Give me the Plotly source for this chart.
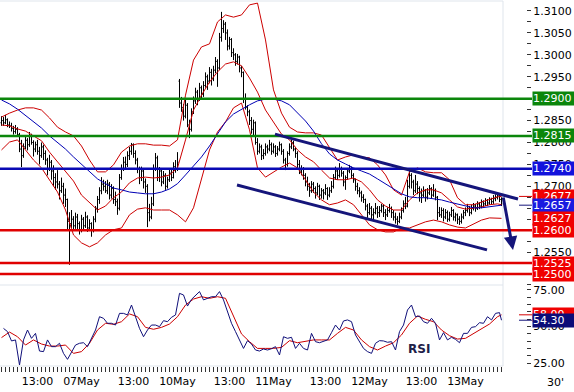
import plotly.graph_objects as go

# ---------------- data (EUR/USD 30-minute bars, 06May 04:00 .. 13May 09:00) ----------------
# prices stored as pips above 1.2000  (price = 1.2 + pips / 10000)
open_pips = [
    845, 850, 845, 852, 840, 838, 832, 825, 830, 818,
    785, 770, 790, 805, 795, 815, 800, 785, 795, 780,
    770, 790, 775, 760, 740, 755, 735, 720, 710, 705,
    690, 700, 680, 670, 620, 615, 625, 610, 630, 615,
    600, 625, 610, 630, 605, 615, 600, 625, 650, 670,
    690, 705, 700, 690, 705, 680, 695, 670, 665, 650,
    720, 740, 755, 750, 770, 780, 795, 775, 760, 740,
    720, 735, 710, 700, 640, 630, 660, 740, 765, 720,
    735, 710, 725, 700, 715, 730, 720, 745, 740, 940,
    890, 880, 860, 885, 840, 830, 870, 895, 915, 900,
    925, 910, 930, 950, 940, 960, 945, 965, 985, 970,
    1040, 1060, 1070, 1050, 1020, 1035, 1005, 1000, 985, 995,
    970, 960, 900, 880, 870, 850, 830, 845, 800, 780,
    790, 770, 775, 790, 785, 795, 780, 790, 775, 785,
    795, 780, 760, 750, 775, 790, 800, 785, 775, 750,
    735, 740, 725, 710, 700, 690, 705, 695, 685, 700,
    680, 690, 685, 695, 680, 690, 700, 720, 735, 725,
    740, 730, 710, 720, 735, 740, 725, 715, 700, 690,
    685, 675, 670, 655, 640, 650, 635, 640, 650, 640,
    645, 655, 640, 635, 645, 650, 640, 630, 625, 620,
    630, 645, 660, 655, 700, 725, 710, 690, 705, 695,
    685, 680, 690, 675, 685, 695, 680, 690, 675, 640,
    635, 645, 630, 640, 625, 635, 645, 630, 635, 625,
    620, 630, 640, 645, 650, 640, 650, 655, 650, 660,
    655, 665, 660, 668, 662, 670, 665, 672, 675, 680,
    670]
high_pips = [
    860, 858, 863, 855, 848, 845, 838, 840, 835, 822,
    806, 798, 815, 810, 824, 820, 805, 802, 806, 790,
    800, 795, 782, 765, 772, 760, 748, 730, 737, 712,
    720, 708, 695, 672, 641, 646, 632, 640, 637, 620,
    635, 630, 642, 634, 625, 618, 632, 655, 678, 698,
    721, 715, 712, 715, 710, 705, 700, 688, 672, 728,
    750, 767, 768, 780, 790, 799, 798, 782, 765, 745,
    745, 740, 718, 705, 660, 676, 750, 776, 770, 744,
    740, 735, 730, 722, 740, 738, 755, 760, 778, 945,
    904, 888, 898, 890, 852, 878, 905, 925, 920, 936,
    930, 940, 960, 955, 972, 968, 975, 995, 990, 1050,
    1098, 1079, 1075, 1058, 1041, 1038, 1015, 1004, 1002, 998,
    975, 962, 912, 885, 875, 858, 852, 848, 810, 798,
    795, 785, 798, 795, 806, 800, 798, 794, 792, 802,
    798, 785, 765, 780, 798, 806, 804, 790, 780, 760,
    748, 744, 730, 722, 708, 712, 710, 700, 708, 704,
    696, 694, 705, 698, 698, 712, 728, 745, 740, 753,
    745, 735, 725, 742, 749, 745, 730, 718, 708, 698,
    690, 682, 672, 660, 662, 655, 650, 662, 655, 655,
    660, 658, 648, 652, 660, 654, 646, 640, 632, 640,
    652, 668, 676, 715, 737, 730, 715, 726, 712, 700,
    695, 700, 694, 696, 703, 698, 705, 695, 678, 653,
    652, 650, 648, 645, 642, 653, 648, 640, 638, 632,
    638, 646, 652, 660, 655, 658, 662, 660, 666, 664,
    670, 668, 673, 671, 675, 674, 680, 682, 687, 684,
    675]
low_pips = [
    838, 838, 842, 835, 833, 825, 818, 820, 813, 778,
    744, 765, 785, 782, 790, 795, 768, 778, 772, 750,
    765, 760, 749, 725, 735, 715, 700, 692, 695, 670,
    685, 660, 653, 601, 521, 605, 598, 603, 600, 590,
    595, 600, 605, 596, 598, 585, 595, 618, 640, 660,
    682, 690, 685, 682, 670, 672, 660, 655, 635, 645,
    715, 735, 740, 744, 760, 772, 765, 750, 730, 705,
    712, 695, 685, 607, 620, 625, 655, 735, 712, 710,
    700, 705, 692, 695, 710, 712, 718, 731, 735, 879,
    870, 850, 855, 835, 810, 825, 865, 888, 885, 895,
    900, 904, 925, 920, 935, 930, 940, 958, 927, 965,
    1030, 1050, 1034, 1010, 1012, 995, 988, 975, 978, 960,
    949, 890, 875, 860, 840, 820, 813, 795, 772, 775,
    760, 762, 770, 775, 780, 772, 775, 767, 770, 780,
    772, 752, 737, 745, 770, 785, 780, 765, 742, 728,
    725, 715, 700, 690, 676, 685, 685, 672, 680, 669,
    672, 670, 680, 669, 675, 685, 695, 715, 715, 720,
    722, 700, 692, 715, 730, 718, 708, 690, 682, 675,
    665, 662, 645, 628, 635, 625, 623, 636, 628, 630,
    640, 630, 623, 630, 640, 628, 622, 615, 612, 616,
    625, 640, 648, 652, 695, 695, 680, 685, 682, 665,
    662, 675, 665, 670, 680, 672, 676, 668, 623, 630,
    628, 620, 625, 619, 620, 630, 622, 620, 614, 612,
    615, 625, 632, 640, 632, 636, 645, 642, 646, 648,
    650, 652, 655, 655, 658, 658, 660, 666, 670, 664,
    655]
close_pips = [
    850, 845, 852, 840, 838, 832, 825, 830, 818, 785,
    770, 790, 805, 795, 815, 800, 785, 795, 780, 770,
    790, 775, 760, 740, 755, 735, 720, 710, 705, 690,
    700, 680, 670, 620, 615, 625, 610, 630, 615, 600,
    625, 610, 630, 605, 615, 600, 625, 650, 670, 690,
    705, 700, 690, 705, 680, 695, 670, 665, 650, 720,
    740, 755, 750, 770, 780, 795, 775, 760, 740, 720,
    735, 710, 700, 640, 630, 660, 740, 765, 720, 735,
    710, 725, 700, 715, 730, 720, 745, 740, 755, 890,
    880, 860, 885, 840, 830, 870, 895, 915, 900, 925,
    910, 930, 950, 940, 960, 945, 965, 985, 970, 1040,
    1060, 1070, 1050, 1020, 1035, 1005, 1000, 985, 995, 970,
    960, 900, 880, 870, 850, 830, 845, 800, 780, 790,
    770, 775, 790, 785, 795, 780, 790, 775, 785, 795,
    780, 760, 750, 775, 790, 800, 785, 775, 750, 735,
    740, 725, 710, 700, 690, 705, 695, 685, 700, 680,
    690, 685, 695, 680, 690, 700, 720, 735, 725, 740,
    730, 710, 720, 735, 740, 725, 715, 700, 690, 685,
    675, 670, 655, 640, 650, 635, 640, 650, 640, 645,
    655, 640, 635, 645, 650, 640, 630, 625, 620, 630,
    645, 660, 655, 700, 725, 710, 690, 705, 695, 685,
    680, 690, 675, 685, 695, 680, 690, 675, 640, 635,
    645, 630, 640, 625, 635, 645, 630, 635, 625, 620,
    630, 640, 645, 650, 640, 650, 655, 650, 660, 655,
    665, 660, 668, 662, 670, 665, 672, 675, 680, 670,
    660]

# Bollinger bands and moving average, read every 4 bars (last value = last bar)
bb_upper_pips = [858, 867, 874, 879, 879, 874, 856, 835, 824, 815,
                 792, 760, 733, 733, 749, 778, 792, 797, 797, 794,
                 794, 792, 806, 908, 988, 1018, 1025, 1075, 1091, 1086,
                 1091, 1114, 1118, 1034, 920, 867, 835, 824, 822, 822,
                 817, 788, 760, 767, 772, 767, 765, 749, 726, 692,
                 680, 733, 742, 733, 731, 731, 715, 674, 658, 658,
                 664, 671, 676, 677]
bb_mid_pips = [840, 838, 831, 826, 815, 804, 778, 756, 733, 712,
               680, 662, 646, 655, 674, 687, 708, 719, 721, 719,
               721, 726, 742, 806, 874, 908, 938, 961, 979, 984,
               975, 947, 915, 874, 845, 819, 806, 783, 767, 756,
               737, 719, 715, 715, 719, 710, 692, 669, 655, 646,
               646, 669, 685, 692, 692, 685, 669, 653, 648, 651,
               653, 658, 660, 658]
bb_lower_pips = [783, 801, 806, 783, 760, 742, 715, 687, 646, 589,
                 571, 562, 571, 589, 601, 605, 635, 648, 651, 646,
                 646, 646, 635, 619, 651, 715, 783, 824, 847, 879,
                 890, 829, 742, 721, 733, 744, 753, 742, 715, 687,
                 669, 658, 662, 669, 658, 635, 612, 601, 596, 596,
                 605, 605, 612, 619, 623, 619, 612, 607, 605, 614,
                 623, 628, 628, 627]
ma_pips = [897, 888, 876, 861, 847, 833, 815, 801, 785, 767,
           751, 733, 717, 706, 696, 692, 687, 685, 683, 683,
           687, 694, 706, 726, 747, 767, 792, 819, 847, 865,
           876, 886, 895, 899, 899, 895, 886, 867, 849, 826,
           797, 774, 760, 751, 742, 735, 728, 717, 706, 694,
           683, 676, 674, 674, 671, 669, 664, 660, 655, 651,
           651, 653, 655, 657]

# RSI (every 2 bars, odd bars; last value = last bar) and its signal line (every 4 bars)
rsi_values = [48.7, 46.5, 40.1, 40.8, 23.6, 40.8, 47.6, 41.9, 45.3, 33.2,
              32.8, 40.8, 36.2, 36.2, 38.5, 31.6, 27.5, 32.8, 37.3, 38.5,
              38.9, 36.2, 41.9, 47.6, 56.7, 55.6, 52.2, 52.2, 51.0, 59.0,
              59.0, 57.9, 64.7, 56.7, 48.7, 43.0, 47.6, 51.0, 51.0, 49.9,
              54.0, 53.3, 56.3, 57.9, 72.7, 71.6, 64.0, 68.6, 71.6, 73.9,
              68.2, 69.3, 70.4, 70.4, 73.9, 68.2, 59.5, 52.2, 46.5, 40.8,
              35.0, 40.3, 38.0, 33.9, 33.2, 34.6, 33.9, 34.8, 36.2, 30.5,
              43.0, 41.9, 42.6, 35.0, 38.5, 35.0, 33.9, 45.3, 39.6, 38.9,
              39.6, 40.8, 45.8, 51.0, 47.6, 53.8, 54.5, 53.3, 44.2, 39.6,
              35.0, 32.8, 31.6, 38.5, 40.3, 40.1, 39.2, 39.6, 33.9, 46.5,
              51.0, 61.3, 64.7, 56.7, 57.2, 53.3, 52.2, 55.6, 52.2, 40.8,
              45.8, 40.8, 42.6, 41.2, 38.9, 45.3, 45.3, 49.4, 49.9, 52.6,
              52.2, 56.7, 54.5, 59.0, 59.5, 54.3]
rsi_signal = [42.4, 46.2, 43.0, 37.3, 40.8, 38.0, 36.6, 36.6, 37.3, 31.6,
              32.8, 38.5, 47.6, 52.2, 51.5, 53.3, 58.6, 56.7, 49.4, 48.1,
              49.4, 51.7, 56.7, 64.7, 68.8, 70.4, 69.3, 70.4, 69.3, 56.7,
              44.9, 39.6, 35.0, 35.0, 35.0, 35.7, 40.3, 38.9, 39.6, 40.8,
              40.8, 40.8, 45.3, 49.4, 47.6, 40.8, 36.2, 33.9, 36.6, 38.9,
              44.2, 52.2, 57.2, 54.9, 53.3, 47.6, 43.7, 41.4, 41.9, 45.3,
              48.1, 51.7, 56.7, 58.0]

# horizontal support / resistance levels
level_values = [1.2900, 1.2815, 1.2740, 1.2600, 1.2525, 1.2500]
level_colors = ["#0b860b", "#0b860b", "#0a0ab4", "#e00000", "#e00000", "#e00000"]

# trend channel (bar index, price) and projected move
channel_upper = [(136.75, 1.2819), (258.25, 1.2671)]
channel_lower = [(117.75, 1.2703), (242.75, 1.2555)]
arrow_from = (250.75, 1.2678)
arrow_to = (255.75, 1.2555)

# time-axis labels (bar index -> text)
tick_bars = [18, 40, 66, 88, 114, 136, 162, 184, 210, 232]
tick_texts = ["13:00", "07May", "13:00", "10May", "13:00", "11May", "13:00", "12May", "13:00", "13May"]


def to_price(values):
    return [1.2 + v / 10000.0 for v in values]


bars = list(range(len(close_pips)))
last_bar = bars[-1]
band_x = [4 * k for k in range(len(bb_upper_pips) - 1)] + [last_bar]
rsi_x = [2 * k + 1 for k in range(len(rsi_values) - 1)] + [last_bar]
sig_x = [4 * k for k in range(len(rsi_signal) - 1)] + [last_bar]

RED = "#d40000"
BAND = "#cc0000"
NAVY = "#15157a"
BLUE_MA = "#0000b4"
FONT = "DejaVu Sans"
X_RANGE = [-0.75, 262.25]      # exactly 2 px per bar on a 526 px wide plot area
PLOT_RIGHT = 503.0 / 526.0     # end of the chart area inside the paper
LABEL_X = 532.0 / 526.0        # left edge of value labels
MAIN_BOTTOM = 0.2219
RSI_TOP = 0.2192

fig = go.Figure()

fig.add_trace(go.Ohlc(
    x=bars, open=to_price(open_pips), high=to_price(high_pips),
    low=to_price(low_pips), close=to_price(close_pips),
    increasing=dict(line=dict(color="black", width=1)),
    decreasing=dict(line=dict(color="black", width=1)),
    tickwidth=0.5, hoverinfo="skip", xaxis="x", yaxis="y"))

for series, color in [(bb_upper_pips, BAND), (bb_mid_pips, BAND), (bb_lower_pips, BAND), (ma_pips, BLUE_MA)]:
    fig.add_trace(go.Scatter(x=band_x, y=to_price(series), mode="lines",
                             line=dict(color=color, width=1), hoverinfo="skip",
                             xaxis="x", yaxis="y"))

fig.add_trace(go.Scatter(x=sig_x, y=rsi_signal, mode="lines", line=dict(color=BAND, width=1),
                         hoverinfo="skip", xaxis="x", yaxis="y2"))
fig.add_trace(go.Scatter(x=rsi_x, y=rsi_values, mode="lines", line=dict(color="#10107a", width=1),
                         hoverinfo="skip", xaxis="x", yaxis="y2"))

shapes = []
# panel frame lines
frame = "#dfe5ec"
for yy in [1.0, MAIN_BOTTOM, 0.0]:
    shapes.append(dict(type="line", xref="paper", yref="paper", x0=0, x1=PLOT_RIGHT, y0=yy, y1=yy,
                       line=dict(color=frame, width=1)))
shapes.append(dict(type="line", xref="paper", yref="paper", x0=PLOT_RIGHT, x1=PLOT_RIGHT, y0=0, y1=1,
                   line=dict(color=frame, width=1)))
# horizontal levels
for val, col in zip(level_values, level_colors):
    shapes.append(dict(type="line", xref="paper", yref="y", x0=0, x1=LABEL_X, y0=val, y1=val,
                       line=dict(color=col, width=2.5), layer="above"))
# channel
for (p0, p1) in [channel_upper, channel_lower]:
    shapes.append(dict(type="line", xref="x", yref="y", x0=p0[0], y0=p0[1], x1=p1[0], y1=p1[1],
                       line=dict(color=NAVY, width=3), layer="above"))
# small leader marks next to the last values
for val, col in [(to_price(bb_upper_pips)[-1], RED), (to_price(ma_pips)[-1], NAVY)]:
    shapes.append(dict(type="line", xref="paper", yref="y", x0=519 / 526, x1=LABEL_X, y0=val, y1=val,
                       line=dict(color=col, width=1)))
for val, col in [(rsi_signal[-1], RED), (rsi_values[-1], NAVY)]:
    shapes.append(dict(type="line", xref="paper", yref="y2", x0=519 / 526, x1=LABEL_X, y0=val, y1=val,
                       line=dict(color=col, width=1)))

annotations = []


def value_label(val, text, color, yref="y"):
    annotations.append(dict(x=LABEL_X, y=val, xref="paper", yref=yref, xanchor="left", yanchor="middle",
                            text=text, showarrow=False, bgcolor=color, borderpad=0, width=42, height=13,
                            align="left", font=dict(family=FONT, size=11, color="white")))


value_label(level_values[0], "%.4f" % level_values[0], level_colors[0])
value_label(level_values[1], "%.4f" % level_values[1], level_colors[1])
value_label(level_values[2], "%.4f" % level_values[2], "#1212dc")
up_last = to_price(bb_upper_pips)[-1]
ma_last = to_price(ma_pips)[-1]
lo_last = to_price(bb_lower_pips)[-1]
value_label(up_last, "%.4f" % up_last, "#f00000")
value_label(ma_last, "%.4f" % ma_last, "#1a1ae0")
value_label(lo_last, "%.4f" % lo_last, "#f00000")
for val in level_values[3:]:
    value_label(val, "%.4f" % val, "#f00000")
value_label(rsi_signal[-1], "%.2f" % rsi_signal[-1], "#f00000", yref="y2")
value_label(rsi_values[-1], "%.2f" % rsi_values[-1], "#0c0c78", yref="y2")

# projected move arrow
annotations.append(dict(x=arrow_to[0], y=arrow_to[1], ax=arrow_from[0], ay=arrow_from[1],
                        xref="x", yref="y", axref="x", ayref="y", text="", showarrow=True,
                        arrowhead=2, arrowsize=0.9, arrowwidth=3, arrowcolor=NAVY))
annotations.append(dict(x=419 / 526, y=(366 - 349) / 365, xref="paper", yref="paper", text="<b>RSI</b>",
                        xanchor="center", yanchor="middle",
                        showarrow=False, font=dict(family=FONT, size=12, color="#1e2048")))
annotations.append(dict(x=555 / 526, y=(366 - 383) / 365, xref="paper", yref="paper", text="30'",
                        xanchor="center", yanchor="middle",
                        showarrow=False, font=dict(family=FONT, size=11, color="black")))

tickvals = list(range(0, last_bar + 1, 2))
ticktext = [tick_texts[tick_bars.index(t)] if t in tick_bars else "" for t in tickvals]

fig.update_layout(
    width=574, height=392,
    margin=dict(l=0, r=48, t=1, b=26),
    paper_bgcolor="white", plot_bgcolor="white",
    showlegend=False, hovermode=False,
    font=dict(family=FONT, size=11, color="black"),
    shapes=shapes, annotations=annotations,
    xaxis=dict(domain=[0, 1], range=X_RANGE, anchor="y2", tickmode="array",
               tickvals=tickvals, ticktext=ticktext, ticks="outside", ticklen=5,
               tickcolor="#333333", showgrid=False, zeroline=False, showline=False,
               rangeslider=dict(visible=False), tickfont=dict(family=FONT, size=11)),
    yaxis=dict(domain=[MAIN_BOTTOM, 1], range=[1.24749, 1.31228], side="right",
               anchor="free", position=1, tickmode="linear", tick0=1.25, dtick=0.005,
               tickformat=".4f", ticks="outside", ticklen=4, tickcolor="#333333",
               minor=dict(dtick=0.0025, tick0=1.25, ticks="outside", ticklen=4, tickcolor="#333333"),
               showgrid=False, zeroline=False, showline=False, tickfont=dict(family=FONT, size=11)),
    yaxis2=dict(domain=[0, RSI_TOP], range=[22.95, 77.74], side="right",
                anchor="free", position=1, tickmode="array", tickvals=[25, 50, 75],
                tickformat=".2f", ticks="outside", ticklen=4, tickcolor="#333333",
                minor=dict(dtick=5, tick0=25, ticks="outside", ticklen=4, tickcolor="#333333"),
                showgrid=False, zeroline=False, showline=False, tickfont=dict(family=FONT, size=11)),
)

fig.write_html("out.html")
